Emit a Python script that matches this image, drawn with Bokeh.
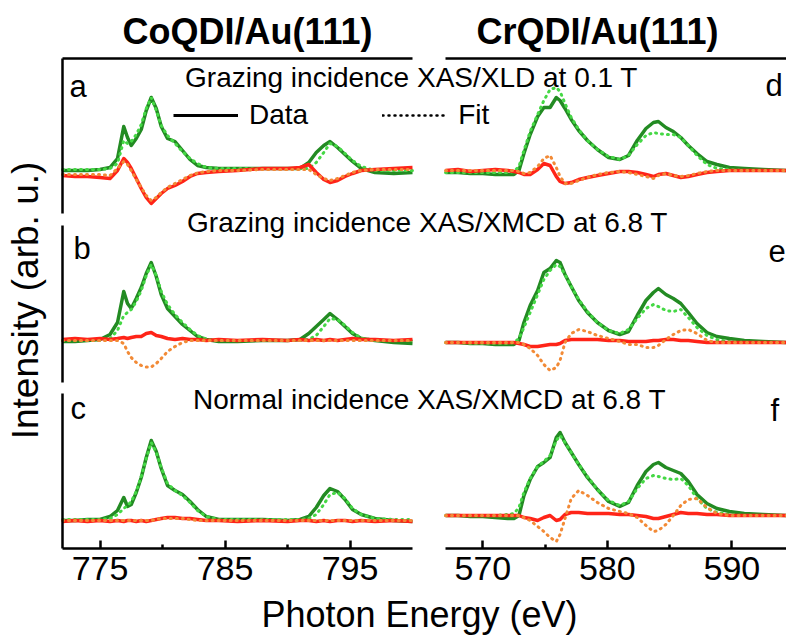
import math
from bokeh.plotting import figure
from bokeh.models import Range1d, LinearAxis, FixedTicker, Label, Legend, LegendItem
from bokeh.core.properties import value
from bokeh.embed import file_html
from bokeh.resources import INLINE

# ---------------- data ----------------
co_energy = [772, 773, 774, 775, 775.8, 776.4, 776.9, 777.2, 777.5, 777.9, 778.3, 778.7, 779.1,
             779.5, 779.9, 780.4, 781.0, 781.6, 782.2, 782.8, 783.5, 784.5, 786, 788, 790, 791,
             791.7, 792.3, 792.9, 793.4, 794.0, 794.6, 795.2, 795.9, 797, 798.5, 800]

a_xas = [0.00, 0.00, 0.00, 0.02, 0.06, 0.24, 0.88, 0.66, 0.50, 0.64, 0.82, 1.20, 1.46, 1.24, 0.88,
         0.64, 0.58, 0.40, 0.22, 0.10, 0.06, 0.04, 0.04, 0.04, 0.04, 0.04, 0.16, 0.36, 0.50, 0.58,
         0.46, 0.32, 0.18, 0.04, -0.04, -0.06, -0.04]
a_xas_fit = [0.02, 0.02, 0.02, 0.02, 0.04, 0.14, 0.60, 0.54, 0.58, 0.72, 0.92, 1.24, 1.46, 1.20, 0.90,
             0.70, 0.54, 0.38, 0.24, 0.14, 0.06, 0.04, 0.04, 0.04, 0.04, 0.04, 0.04, 0.16, 0.36, 0.54,
             0.48, 0.34, 0.20, 0.08, 0.00, 0.00, 0.00]
a_xld = [-0.10, -0.12, -0.12, -0.14, -0.16, 0.00, 0.24, 0.16, 0.04, -0.16, -0.36, -0.54, -0.66, -0.56,
         -0.46, -0.36, -0.30, -0.22, -0.12, -0.06, -0.04, -0.02, 0.00, 0.04, 0.04, 0.06, 0.12, -0.04,
         -0.18, -0.24, -0.20, -0.12, -0.06, 0.00, 0.02, 0.04, 0.06]
a_xld_fit = [-0.08, -0.08, -0.08, -0.08, -0.10, 0.04, 0.18, 0.12, 0.00, -0.18, -0.34, -0.50, -0.60,
             -0.54, -0.44, -0.34, -0.26, -0.18, -0.10, -0.05, -0.02, 0.00, 0.00, 0.02, 0.02, 0.02,
             0.02, -0.08, -0.16, -0.20, -0.16, -0.10, -0.04, 0.00, 0.02, 0.02, 0.02]

b_xas = [-0.02, -0.02, 0.00, 0.02, 0.12, 0.36, 0.98, 0.74, 0.64, 0.84, 1.06, 1.34, 1.56, 1.28, 0.92,
         0.64, 0.48, 0.32, 0.20, 0.08, 0.02, -0.02, -0.02, 0.00, 0.00, 0.02, 0.14, 0.28, 0.42, 0.54,
         0.42, 0.28, 0.14, 0.04, 0.00, -0.04, -0.06]
b_xas_fit = [0.00, 0.00, 0.00, 0.00, 0.04, 0.20, 0.50, 0.56, 0.62, 0.78, 1.00, 1.30, 1.52, 1.30, 0.98,
             0.72, 0.52, 0.36, 0.22, 0.10, 0.03, 0.00, 0.00, 0.00, 0.00, 0.00, 0.02, 0.10, 0.28, 0.44,
             0.42, 0.30, 0.16, 0.05, 0.00, 0.00, 0.00]
b_xmcd = [0.02, 0.04, 0.02, 0.04, 0.02, 0.04, 0.06, 0.04, 0.06, 0.08, 0.08, 0.14, 0.16, 0.10, 0.08,
          0.04, 0.02, 0.04, 0.02, 0.02, 0.00, 0.02, 0.00, 0.02, 0.00, 0.02, 0.00, 0.02, 0.00, 0.02,
          0.00, 0.02, 0.04, 0.02, 0.02, 0.00, 0.02]
b_xmcd_fit = [0.00, 0.00, 0.00, 0.00, 0.00, 0.00, -0.06, -0.22, -0.34, -0.44, -0.50, -0.53, -0.53,
              -0.46, -0.36, -0.22, -0.12, -0.04, 0.00, 0.00, 0.00, 0.00, 0.00, 0.00, 0.00, 0.00, 0.00,
              0.00, 0.00, 0.00, 0.00, 0.00, 0.00, 0.00, 0.00, 0.00, 0.00]

c_xas = [-0.02, -0.02, 0.00, 0.00, 0.06, 0.18, 0.44, 0.26, 0.30, 0.54, 0.84, 1.24, 1.58, 1.36, 1.02,
         0.68, 0.58, 0.50, 0.36, 0.20, 0.06, 0.00, 0.00, 0.00, -0.02, 0.00, 0.06, 0.24, 0.48, 0.62,
         0.56, 0.40, 0.20, 0.10, 0.02, -0.02, -0.04]
c_xas_fit = [0.00, 0.00, 0.00, 0.00, 0.02, 0.10, 0.22, 0.28, 0.36, 0.56, 0.86, 1.22, 1.54, 1.34, 1.04,
             0.72, 0.58, 0.48, 0.34, 0.18, 0.06, 0.00, 0.00, 0.00, 0.00, 0.00, 0.02, 0.10, 0.30, 0.50,
             0.54, 0.42, 0.22, 0.10, 0.02, 0.00, 0.00]
c_xmcd = [-0.04, -0.02, -0.04, -0.02, -0.04, -0.02, -0.04, -0.02, -0.02, -0.04, -0.02, -0.04, -0.02,
          0.00, 0.02, 0.04, 0.04, 0.02, 0.02, 0.00, -0.02, -0.02, -0.04, -0.02, -0.04, -0.02, -0.02,
          -0.04, -0.02, -0.04, -0.02, -0.02, -0.04, -0.02, -0.04, -0.02, -0.04]
c_xmcd_fit = [-0.02, -0.02, -0.02, -0.02, -0.02, -0.02, -0.02, -0.02, -0.02, -0.02, -0.02, -0.02,
              -0.02, 0.00, 0.02, 0.02, 0.02, 0.02, 0.00, -0.02, -0.02, -0.02, -0.02, -0.02, -0.02,
              -0.02, -0.02, -0.02, -0.02, -0.02, -0.02, -0.02, -0.02, -0.02, -0.02, -0.02, -0.02]

cr_energy = [567, 568, 569, 570, 571, 572, 572.5, 572.9, 573.3, 573.8, 574.4, 574.9, 575.4, 575.9,
             576.2, 576.6, 577.1, 577.7, 578.4, 579.2, 580.1, 581.0, 581.7, 582.4, 583.1, 583.7,
             584.1, 584.7, 585.3, 585.9, 586.5, 587.2, 588.0, 588.8, 589.8, 591, 592.5, 594.4]

d_xas = [-0.04, -0.04, -0.06, -0.06, -0.08, -0.08, -0.08, 0.00, 0.34, 0.72, 1.08, 1.26, 1.26, 1.46,
         1.40, 1.24, 1.02, 0.80, 0.60, 0.42, 0.26, 0.22, 0.30, 0.60, 0.84, 0.96, 0.98, 0.86, 0.78,
         0.66, 0.50, 0.34, 0.18, 0.12, 0.06, 0.04, 0.02, 0.00]
d_xas_fit = [-0.04, -0.04, -0.04, -0.04, -0.04, -0.04, -0.02, 0.08, 0.40, 0.78, 1.12, 1.40, 1.62, 1.66,
             1.58, 1.34, 1.06, 0.82, 0.60, 0.42, 0.28, 0.22, 0.30, 0.52, 0.70, 0.76, 0.74, 0.72, 0.72,
             0.66, 0.50, 0.30, 0.12, 0.04, 0.02, 0.00, 0.00, 0.00]
d_xld = [0.00, 0.02, -0.02, 0.00, 0.02, 0.00, -0.02, -0.04, -0.08, -0.08, 0.02, 0.14, 0.10, -0.12,
         -0.22, -0.26, -0.24, -0.18, -0.14, -0.10, -0.06, -0.02, -0.02, -0.04, -0.08, -0.12, -0.08,
         -0.06, -0.10, -0.14, -0.12, -0.08, -0.04, -0.02, 0.00, 0.00, 0.00, 0.00]
d_xld_fit = [0.00, 0.00, 0.00, 0.00, 0.00, 0.00, 0.00, -0.02, -0.06, -0.04, 0.08, 0.24, 0.30, 0.06,
             -0.12, -0.26, -0.26, -0.20, -0.14, -0.08, -0.04, -0.02, -0.04, -0.08, -0.12, -0.16, -0.10,
             -0.06, -0.10, -0.12, -0.10, -0.06, -0.02, 0.00, 0.00, 0.00, 0.00, 0.00]

e_xas = [0.00, 0.00, -0.02, -0.02, -0.04, -0.04, -0.04, 0.04, 0.40, 0.74, 1.04, 1.40, 1.48, 1.64,
         1.60, 1.36, 1.12, 0.84, 0.60, 0.40, 0.24, 0.16, 0.22, 0.54, 0.84, 1.00, 1.08, 0.96, 0.88,
         0.78, 0.60, 0.38, 0.20, 0.12, 0.08, 0.04, 0.02, 0.00]
e_xas_fit = [0.00, 0.00, -0.02, -0.02, -0.02, -0.02, 0.00, 0.08, 0.30, 0.60, 0.96, 1.26, 1.44, 1.56,
             1.52, 1.36, 1.12, 0.86, 0.62, 0.40, 0.24, 0.18, 0.26, 0.48, 0.68, 0.76, 0.72, 0.64, 0.62,
             0.66, 0.50, 0.30, 0.14, 0.06, 0.02, 0.00, 0.00, 0.00]
e_xmcd = [0.00, 0.00, 0.00, 0.00, 0.00, 0.00, 0.00, -0.02, -0.04, -0.08, -0.08, -0.06, -0.04, -0.04,
          -0.02, 0.04, 0.06, 0.06, 0.06, 0.06, 0.04, 0.04, 0.02, 0.02, 0.02, 0.04, 0.04, 0.06, 0.06,
          0.04, 0.04, 0.02, 0.00, 0.00, 0.00, 0.00, 0.00, 0.00]
e_xmcd_fit = [0.00, 0.00, 0.00, 0.00, 0.00, 0.00, 0.00, 0.00, -0.04, -0.12, -0.26, -0.44, -0.56, -0.50,
              -0.36, 0.00, 0.18, 0.26, 0.22, 0.14, 0.08, 0.02, -0.04, -0.04, -0.10, -0.10, -0.06, 0.06,
              0.16, 0.24, 0.26, 0.18, 0.04, 0.00, 0.00, 0.00, 0.00, 0.00]

f_xas = [0.00, 0.00, -0.02, -0.02, -0.04, -0.06, -0.06, 0.00, 0.40, 0.72, 0.98, 1.06, 1.16, 1.56,
         1.66, 1.46, 1.26, 1.02, 0.76, 0.52, 0.28, 0.18, 0.26, 0.60, 0.88, 1.02, 1.06, 0.96, 0.90,
         0.84, 0.68, 0.42, 0.24, 0.14, 0.08, 0.04, 0.02, 0.00]
f_xas_fit = [0.00, 0.00, 0.00, 0.00, 0.00, 0.02, 0.04, 0.16, 0.46, 0.74, 0.98, 1.08, 1.20, 1.50,
             1.60, 1.46, 1.26, 1.02, 0.78, 0.52, 0.30, 0.20, 0.28, 0.54, 0.74, 0.80, 0.78, 0.74, 0.72,
             0.74, 0.60, 0.34, 0.14, 0.06, 0.02, 0.00, 0.00, 0.00]
f_xmcd = [0.00, 0.00, 0.00, 0.00, 0.00, 0.00, 0.00, 0.00, -0.04, -0.06, -0.10, -0.04, 0.00, -0.10,
          -0.08, 0.02, 0.06, 0.06, 0.04, 0.04, 0.04, 0.02, 0.02, 0.00, -0.02, -0.06, -0.06, -0.02,
          0.02, 0.06, 0.04, 0.04, 0.02, 0.02, 0.00, 0.00, 0.00, 0.00]
f_xmcd_fit = [0.00, 0.00, 0.00, 0.00, 0.00, 0.00, 0.00, 0.00, -0.04, -0.10, -0.22, -0.32, -0.44, -0.52,
              -0.38, -0.06, 0.34, 0.50, 0.40, 0.26, 0.14, 0.08, 0.04, -0.04, -0.20, -0.32, -0.30,
              -0.18, 0.00, 0.20, 0.32, 0.34, 0.16, 0.04, 0.00, 0.00, 0.00, 0.00]

co_ticks = [775, 785, 795]
co_minor = [780, 790]
cr_ticks = [570, 580, 590]
cr_minor = [575, 585]

titles = ["CoQDI/Au(111)", "CrQDI/Au(111)"]
descriptions = ["Grazing incidence XAS/XLD at 0.1 T",
                "Grazing incidence XAS/XMCD at 6.8 T",
                "Normal incidence XAS/XMCD at 6.8 T"]

# ---------------- layout constants (canvas pixels) ----------------
W, H = 786, 636
LEFT, TOP, BOTTOM = 62, 58, 548          # where the panel axes lines sit
CO_PX_PER_EV = 12.5
CR_PX_PER_EV = 12.45
CR_LEFT_PX = 445
UNIT_PX = 50.0
BASE = {"a": 170, "b": 340, "c": 519, "d": 170, "e": 342, "f": 515}
BANDS = [(58, 213), (225, 382), (393, 548)]

FONT = "Liberation Sans"
GREEN = "#238b23"
LGREEN = "#45d845"
RED = "#ff2418"
ORANGE = "#f28a36"

co_start = co_energy[0]
cr_start = cr_energy[0]
# the frame fills the whole canvas; ranges are set so the panels land where they belong
x_co = Range1d(co_start - LEFT / CO_PX_PER_EV, co_start + (W - LEFT) / CO_PX_PER_EV)
x_cr = Range1d(cr_start - CR_LEFT_PX / CR_PX_PER_EV, cr_start + (W - CR_LEFT_PX) / CR_PX_PER_EV)

p = figure(width=W, height=H, output_backend="svg", toolbar_location=None,
           x_axis_type=None, y_axis_type=None, x_range=x_co, y_range=Range1d(0, H),
           min_border_left=0, min_border_right=0, min_border_top=0, min_border_bottom=0)
p.outline_line_color = None
p.background_fill_color = "white"
p.border_fill_color = "white"
p.extra_x_ranges = {"cr": x_cr}
p.extra_y_ranges = {k: Range1d((b - H) / UNIT_PX, b / UNIT_PX) for k, b in BASE.items()}


def plain_axis(**kw):
    return LinearAxis(ticker=FixedTicker(ticks=[]), major_label_text_font_size="0px",
                      major_tick_in=0, major_tick_out=0, minor_tick_in=0, minor_tick_out=0,
                      axis_line_width=2.5, axis_line_color="black", **kw)


for name, (top, bot) in zip(["a", "b", "c"], BANDS):
    b = BASE[name]
    p.add_layout(plain_axis(y_range_name=name, bounds=((b - bot) / UNIT_PX, (b - top) / UNIT_PX),
                            fixed_location=co_start), "left")

p.add_layout(plain_axis(bounds=(co_start, 800), fixed_location=H - TOP), "above")
p.add_layout(plain_axis(x_range_name="cr", bounds=(cr_start, 600), fixed_location=H - TOP), "above")


def energy_axis(ticks, minor, bounds, **kw):
    return LinearAxis(ticker=FixedTicker(ticks=ticks, minor_ticks=minor), bounds=bounds,
                      fixed_location=H - BOTTOM, major_tick_in=8, major_tick_out=0,
                      minor_tick_in=4, minor_tick_out=0, axis_line_width=2.5,
                      major_tick_line_width=2.5, minor_tick_line_width=2.5,
                      major_label_text_font_size="34px", major_label_text_font=FONT,
                      major_label_text_color="black", major_label_standoff=8, **kw)


p.add_layout(energy_axis(co_ticks, co_minor, (co_start, 800)), "below")
p.add_layout(energy_axis(cr_ticks, cr_minor, (cr_start, 600), x_range_name="cr"), "below")


def add_text(text, px, py, size, align="left", baseline="alphabetic", style="normal", angle=0.0):
    p.add_layout(Label(x=px, y=H - py, x_units="screen", y_units="screen", text=text,
                       text_font=FONT, text_font_size=size, text_align=align,
                       text_baseline=baseline, text_font_style=style, text_color="black",
                       angle=angle))


add_text(titles[0], 247, 31, "36px", align="center", style="bold")
add_text(titles[1], 597, 31, "36px", align="center", style="bold")
add_text(descriptions[0], 411, 77, "28px", align="center")
add_text(descriptions[1], 427, 222, "28px", align="center")
add_text(descriptions[2], 429, 399, "28px", align="center")
for letter, px, py in [("a", 69, 86), ("b", 73, 248), ("c", 70, 408),
                       ("d", 765, 85), ("e", 768, 250), ("f", 770, 410)]:
    add_text(letter, px, py, "31px")
add_text("Photon Energy (eV)", 419, 614, "36px", align="center")
add_text("Intensity (arb. u.)", 25, 300, "37px", align="center", baseline="middle",
         angle=math.pi / 2)

panels = [
    ("a", co_energy, "default", a_xas, a_xas_fit, a_xld, a_xld_fit),
    ("b", co_energy, "default", b_xas, b_xas_fit, b_xmcd, b_xmcd_fit),
    ("c", co_energy, "default", c_xas, c_xas_fit, c_xmcd, c_xmcd_fit),
    ("d", cr_energy, "cr", d_xas, d_xas_fit, d_xld, d_xld_fit),
    ("e", cr_energy, "cr", e_xas, e_xas_fit, e_xmcd, e_xmcd_fit),
    ("f", cr_energy, "cr", f_xas, f_xas_fit, f_xmcd, f_xmcd_fit),
]

for name, en, xr, xas, xas_fit, dic, dic_fit in panels:
    p.line(en, xas, x_range_name=xr, y_range_name=name, line_color=GREEN, line_width=3.5,
           line_join="round")
    p.line(en, xas_fit, x_range_name=xr, y_range_name=name, line_color=LGREEN, line_width=3,
           line_dash="1 5", line_cap="round")
    p.line(en, dic, x_range_name=xr, y_range_name=name, line_color=RED, line_width=3.5,
           line_join="round")
    p.line(en, dic_fit, x_range_name=xr, y_range_name=name, line_color=ORANGE, line_width=3,
           line_dash="1 5", line_cap="round")

# legend samples: hidden black copies of panel-a series (only their legend glyphs are shown)
r_data = p.line(co_energy, a_xas, y_range_name="a", line_color="black", line_width=3,
                visible=False)
r_fit = p.line(co_energy, a_xas_fit, y_range_name="a", line_color="black", line_width=2.5,
               line_dash="1 5", line_cap="round", visible=False)
legend = Legend(items=[LegendItem(label=value("Data"), renderers=[r_data]),
                       LegendItem(label=value("Fit"), renderers=[r_fit])],
                location=(173, H - 131), orientation="horizontal",
                glyph_width=65, glyph_height=30, label_height=30, label_standoff=11,
                spacing=74, padding=0, margin=0, border_line_color=None,
                background_fill_alpha=0, label_text_font_size="28px", label_text_font=FONT,
                label_text_color="black", inactive_fill_alpha=0)
p.add_layout(legend)

open("out.html", "w").write(file_html(p, INLINE))
